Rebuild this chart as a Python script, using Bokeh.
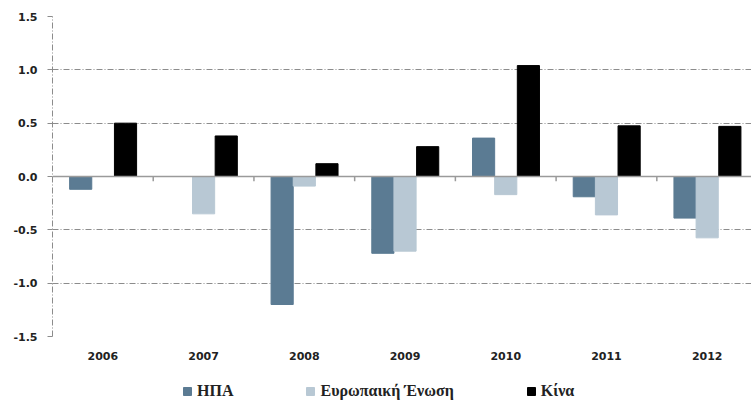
from bokeh.plotting import figure
from bokeh.layouts import column
from bokeh.models import (Range1d, FixedTicker, Legend, LegendItem, Span,
                          ColumnDataSource, NumeralTickFormatter)
from bokeh.embed import file_html
from bokeh.resources import INLINE

years = ["2006", "2007", "2008", "2009", "2010", "2011", "2012"]
usa = [-0.12, 0.0, -1.20, -0.72, 0.36, -0.19, -0.39]
eu = [0.0, -0.35, -0.09, -0.70, -0.17, -0.36, -0.575]
china = [0.50, 0.38, 0.12, 0.28, 1.04, 0.475, 0.47]
series_names = ["ΗΠΑ", "Ευρωπαική Ένωση", "Κίνα"]
y_ticks = [-1.5, -1.0, -0.5, 0.0, 0.5, 1.0, 1.5]

colors = ["#5b7b93", "#b8c8d4", "#000000"]
offsets = [-0.22, 0.0, 0.225]
bar_w = 0.22
GRID = "#8c8c8c"
ZERO = "#9a9a9a"

n = len(years)
centers = [i + 0.5 for i in range(n)]
boundaries = list(range(1, n))

p = figure(width=751, height=380, x_range=Range1d(0, 6.94), y_range=Range1d(-1.5, 1.5),
           output_backend="svg", toolbar_location=None,
           min_border_left=52, min_border_right=0, min_border_top=16, min_border_bottom=44)
p.outline_line_color = None
p.background_fill_color = "white"
p.border_fill_color = "white"

# grid
p.xgrid.visible = False
p.ygrid.ticker = FixedTicker(ticks=[t for t in y_ticks if t != 0])
p.ygrid.grid_line_color = GRID
p.ygrid.grid_line_dash = "6 2 1 2"
p.ygrid.grid_line_width = 1

sources = []
for vals, col, off in zip([usa, eu, china], colors, offsets):
    src = ColumnDataSource(dict(x=[c + off for c in centers], top=vals))
    sources.append(src)
    p.vbar(x="x", top="top", bottom=0, width=bar_w, source=src,
           fill_color=col, line_color=col, line_width=1)

# zero line and category boundary ticks
p.add_layout(Span(location=0, dimension="width", line_color=ZERO, line_width=1.5))
p.segment(x0=boundaries, x1=boundaries, y0=[0] * len(boundaries), y1=[-0.045] * len(boundaries),
          line_color=ZERO, line_width=1.5)

# y axis
p.yaxis.ticker = FixedTicker(ticks=y_ticks)
p.yaxis.formatter = NumeralTickFormatter(format="0.0")
p.yaxis.axis_line_color = GRID
p.yaxis.axis_line_dash = "6 2 1 2"
p.yaxis.major_tick_line_color = GRID
p.yaxis.major_tick_out = 5
p.yaxis.major_tick_in = 0
p.yaxis.minor_tick_line_color = None
p.yaxis.major_label_text_font = "DejaVu Sans"
p.yaxis.major_label_text_font_style = "bold"
p.yaxis.major_label_text_font_size = "11px"
p.yaxis.major_label_text_color = "#222222"
p.yaxis.major_label_standoff = 10

# x axis (labels only)
p.xaxis.ticker = FixedTicker(ticks=centers)
p.xaxis.major_label_overrides = {c: y for c, y in zip(centers, years)}
p.xaxis.axis_line_color = None
p.xaxis.major_tick_line_color = None
p.xaxis.minor_tick_line_color = None
p.xaxis.major_label_text_font = "DejaVu Sans"
p.xaxis.major_label_text_font_style = "bold"
p.xaxis.major_label_text_font_size = "11px"
p.xaxis.major_label_text_color = "#222222"
p.xaxis.major_label_standoff = 9

# legend strip below the chart (same series, drawn out of view; only the legend shows)
lg = figure(width=751, height=20, x_range=Range1d(-20, -19), y_range=Range1d(-20, -19),
            output_backend="svg", toolbar_location=None,
            min_border_left=0, min_border_right=0, min_border_top=0, min_border_bottom=0)
lg.axis.visible = False
lg.grid.visible = False
lg.outline_line_color = None
lg_renderers = []
for src, col in zip(sources, colors):
    lg_renderers.append(lg.vbar(x="x", top="top", bottom=0, width=bar_w, source=src,
                                fill_color=col, line_color=col))
legend = Legend(items=[LegendItem(label=nm, renderers=[r]) for nm, r in zip(series_names, lg_renderers)],
                orientation="horizontal", location=(130, 0),
                glyph_width=10, glyph_height=10, label_standoff=5, spacing=72,
                label_text_font="Liberation Serif", label_text_font_style="bold",
                label_text_font_size="16px", label_text_color="#222222",
                border_line_color=None, background_fill_alpha=0, margin=0, padding=0)
lg.add_layout(legend, "center")

layout = column(p, lg, spacing=0)
open("out.html", "w").write(file_html(layout, INLINE))
